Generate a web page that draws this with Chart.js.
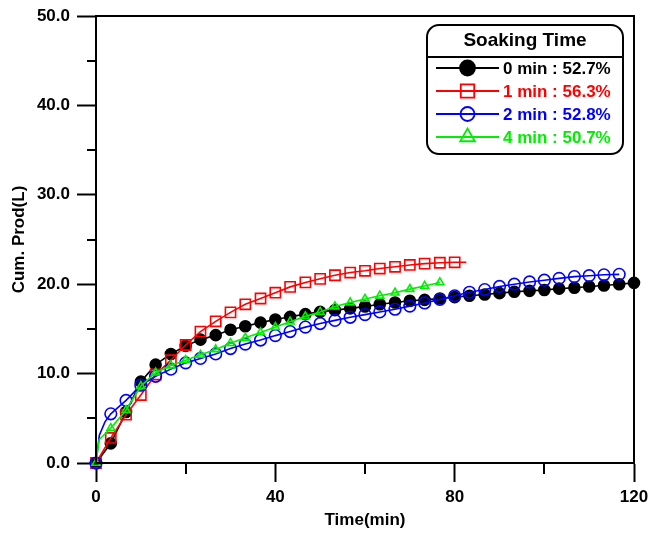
<!DOCTYPE html>
<html><head><meta charset="utf-8">
<script src="https://cdn.jsdelivr.net/npm/chart.js@4/dist/chart.umd.min.js"></script>
<style>html,body{margin:0;padding:0;background:#fff}#wrap{width:648px;height:533px;position:relative}</style>
</head><body><div id="wrap"><canvas id="c" width="648" height="533"></canvas></div>
<script>
// ---- data ----
const legendTitle = 'Soaking Time';
const seriesNames = ['0 min : 52.7%', '1 min : 56.3%', '2 min : 52.8%', '4 min : 50.7%'];
const xTickLabels = [0, 40, 80, 120];
const yTickLabels = [0, 10, 20, 30, 40, 50];

const time0 = [0,3.3,6.7,10,13.3,16.7,20,23.3,26.7,30,33.3,36.7,40,43.3,46.7,50,53.3,56.7,60,63.3,66.7,70,73.3,76.7,80,83.3,86.7,90,93.3,96.7,100,103.3,106.7,110,113.3,116.7,120];
const prod0 = [0,2.2,5.7,9.1,11.0,12.2,13.1,13.8,14.3,14.9,15.3,15.7,16.05,16.35,16.65,16.9,17.1,17.3,17.5,17.75,17.95,18.15,18.25,18.4,18.55,18.7,18.85,19.0,19.15,19.25,19.35,19.5,19.6,19.75,19.85,20.0,20.15];

const time1 = [0,3.3,6.7,10,13.3,16.7,20,23.3,26.7,30,33.3,36.7,40,43.3,46.7,50,53.3,56.7,60,63.3,66.7,70,73.3,76.7,80,82.6];
const prod1 = [0,2.8,5.4,7.6,9.9,11.5,13.2,14.7,15.85,16.85,17.75,18.4,19.05,19.7,20.2,20.6,21.0,21.3,21.5,21.75,21.95,22.15,22.3,22.4,22.45,22.45];

const time2 = [0,0.75,2.0,3.3,6.7,10,13.3,16.7,20,23.3,26.7,30,33.3,36.7,40,43.3,46.7,50,53.3,56.7,60,63.3,66.7,70,73.3,76.7,80,83.3,86.7,90,93.3,96.7,100,103.3,106.7,110,113.3,116.7];
const prod2 = [0,3.1,4.6,5.5,7.0,8.7,9.7,10.5,11.2,11.7,12.2,12.8,13.3,13.75,14.25,14.7,15.2,15.6,15.95,16.3,16.6,16.9,17.2,17.55,17.9,18.3,18.7,19.1,19.4,19.75,20.0,20.25,20.45,20.65,20.85,20.95,21.05,21.1];

const time4 = [0,0.7,3.3,6.7,10,13.3,16.7,20,23.3,26.7,30,33.3,36.7,40,43.3,46.7,50,53.3,56.7,60,63.3,66.7,70,73.3,76.7];
const prod4 = [0,2.6,3.9,5.9,8.6,10.1,10.9,11.5,12.1,12.7,13.4,14.0,14.6,15.2,15.8,16.4,16.9,17.5,17.95,18.35,18.7,19.05,19.45,19.8,20.2];

// ---- styling ----
const FONT = '"Liberation Sans", Arial, sans-serif';
const colors = ['#000000', '#ff0000', '#0000ff', '#00ee00'];
const styles = ['circle', 'rect', 'circle', 'triangle'];
const radii = [5.5, 7.2, 5.8, 4.6];

function pts(t, v) { return t.map((x, i) => ({x: x, y: v[i]})); }
function markerRadii(t, r, hidden) { return t.map(x => hidden.includes(x) ? 0 : r); }

const sets = [
  {t: time0, v: prod0, hide: []},
  {t: time1, v: prod1, hide: [82.6]},
  {t: time2, v: prod2, hide: [0.75, 2.0]},
  {t: time4, v: prod4, hide: [0.7]}
];

const datasets = sets.map((s, i) => ({
  label: seriesNames[i],
  data: pts(s.t, s.v),
  showLine: true,
  borderColor: colors[i],
  borderWidth: 1.6,
  backgroundColor: i === 0 ? '#000' : 'rgba(0,0,0,0)',
  pointBackgroundColor: i === 0 ? '#000' : 'rgba(0,0,0,0)',
  pointBorderColor: colors[i],
  pointBorderWidth: 1.6,
  pointStyle: styles[i],
  pointRadius: markerRadii(s.t, radii[i], s.hide),
  pointHoverRadius: markerRadii(s.t, radii[i], s.hide),
  tension: 0,
  clip: false,
  order: 4 - i
}));

function drawMarker(ctx, style, x, y, r, color, filled) {
  ctx.save();
  ctx.strokeStyle = color; ctx.fillStyle = color; ctx.lineWidth = 1.8;
  ctx.beginPath();
  if (style === 'circle') {
    ctx.arc(x, y, r, 0, Math.PI * 2);
  } else if (style === 'rect') {
    const s = r * Math.SQRT1_2;
    ctx.rect(x - s, y - s, 2 * s, 2 * s);
  } else if (style === 'triangle') {
    const a = Math.PI * 2 / 3;
    ctx.moveTo(x, y - r);
    ctx.lineTo(x + Math.sin(a) * r, y - Math.cos(a) * r);
    ctx.lineTo(x + Math.sin(2 * a) * r, y - Math.cos(2 * a) * r);
    ctx.closePath();
  }
  if (filled) ctx.fill();
  ctx.stroke();
  ctx.restore();
}

const framePlugin = {
  id: 'frame',
  afterDraw(chart) {
    const {ctx, chartArea: a, scales} = chart;
    ctx.save();
    ctx.strokeStyle = '#000';
    ctx.lineWidth = 2;
    ctx.strokeRect(a.left, a.top, a.right - a.left, a.bottom - a.top);
    // minor ticks
    ctx.beginPath();
    for (let v = 5; v < 50; v += 10) {
      const py = Math.round(scales.y.getPixelForValue(v));
      ctx.moveTo(a.left - 9, py); ctx.lineTo(a.left, py);
    }
    for (let v = 20; v < 120; v += 40) {
      const px = Math.round(scales.x.getPixelForValue(v));
      ctx.moveTo(px, a.bottom); ctx.lineTo(px, a.bottom + 11);
    }
    ctx.stroke();
    ctx.restore();
  }
};

const legendPlugin = {
  id: 'boxLegend',
  afterDraw(chart) {
    const ctx = chart.ctx;
    ctx.save();
    const bx = 427, by = 25, bw = 196, bh = 129, r = 12;
    ctx.beginPath();
    ctx.moveTo(bx + r, by);
    ctx.arcTo(bx + bw, by, bx + bw, by + bh, r);
    ctx.arcTo(bx + bw, by + bh, bx, by + bh, r);
    ctx.arcTo(bx, by + bh, bx, by, r);
    ctx.arcTo(bx, by, bx + bw, by, r);
    ctx.closePath();
    ctx.fillStyle = '#fff';
    ctx.fill();
    ctx.lineWidth = 2;
    ctx.strokeStyle = '#000';
    ctx.stroke();
    ctx.beginPath();
    ctx.moveTo(bx, 57); ctx.lineTo(bx + bw, 57);
    ctx.stroke();
    ctx.fillStyle = '#000';
    ctx.font = 'bold 19px ' + FONT;
    ctx.textAlign = 'center';
    ctx.textBaseline = 'middle';
    ctx.fillText(legendTitle, bx + bw / 2, 41);
    const rowY = [68, 91, 114, 137];
    const lr = [7.5, 9.5, 7, 8.5];
    seriesNames.forEach((name, i) => {
      const y = rowY[i];
      ctx.strokeStyle = colors[i];
      ctx.lineWidth = 1.8;
      ctx.beginPath();
      ctx.moveTo(436, y); ctx.lineTo(499, y);
      ctx.stroke();
      drawMarker(ctx, styles[i], 467.5, y, lr[i], colors[i], i === 0);
      ctx.fillStyle = colors[i];
      ctx.font = 'bold 17px ' + FONT;
      ctx.textAlign = 'left';
      ctx.fillText(name, 503, y + 1);
    });
    ctx.restore();
  }
};

const tickFont = {family: FONT, size: 17, weight: 'bold'};

new Chart(document.getElementById('c'), {
  type: 'scatter',
  data: {datasets},
  options: {
    responsive: false,
    animation: false,
    devicePixelRatio: 1,
    layout: {padding: {top: 16, right: 14, left: 0, bottom: 0}},
    plugins: {legend: {display: false}, tooltip: {enabled: false}},
    scales: {
      x: {
        type: 'linear', min: 0, max: 120,
        afterBuildTicks(s) { s.ticks = xTickLabels.map(v => ({value: v})); },
        ticks: {color: '#000', font: tickFont, padding: 5, maxRotation: 0, autoSkip: false,
                callback: v => String(v)},
        grid: {drawOnChartArea: false, drawTicks: true, tickLength: 19, tickWidth: 2, tickColor: '#000'},
        border: {color: '#000', width: 2},
        title: {display: true, text: 'Time(min)', color: '#000', font: tickFont, padding: {top: 0, bottom: 2}},
        afterFit(s) { s.height = 70; s.paddingRight = 0; s.paddingLeft = 0; }
      },
      y: {
        type: 'linear', min: 0, max: 50,
        afterBuildTicks(s) { s.ticks = yTickLabels.map(v => ({value: v})); },
        ticks: {color: '#000', font: tickFont, padding: 7, autoSkip: false,
                callback: v => Number(v).toFixed(1)},
        grid: {drawOnChartArea: false, drawTicks: true, tickLength: 19, tickWidth: 2, tickColor: '#000'},
        border: {color: '#000', width: 2},
        title: {display: true, text: 'Cum. Prod(L)', color: '#000', font: tickFont, padding: {top: 9, bottom: 0}},
        afterFit(s) { s.width = 96; s.paddingTop = 0; s.paddingBottom = 0; }
      }
    }
  },
  plugins: [framePlugin, legendPlugin]
});
</script>
</body></html>
